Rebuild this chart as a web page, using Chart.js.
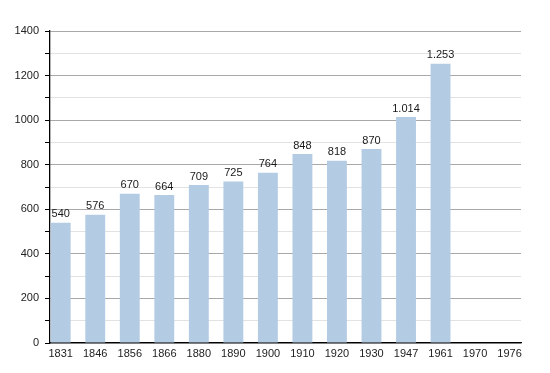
<!DOCTYPE html>
<html>
<head>
<meta charset="utf-8">
<script src="https://cdn.jsdelivr.net/npm/chart.js@4/dist/chart.umd.min.js"></script>
<style>
  html, body { margin: 0; padding: 0; background: #fff; }
  #wrap { width: 550px; height: 373px; }
</style>
</head>
<body>
<div id="wrap"><canvas id="myChart" width="550" height="373"></canvas></div>
<script>
// population by census year
var years = ["1831", "1846", "1856", "1866", "1880", "1890", "1900", "1910", "1920", "1930", "1947", "1961", "1970", "1976"];
var population = [540, 576, 670, 664, 709, 725, 764, 848, 818, 870, 1014, 1253, null, null];
var yTicks = [0, 200, 400, 600, 800, 1000, 1200, 1400];

function fmt(n) {
  // 1014 -> "1.014"
  return String(n).replace(/\B(?=(\d{3})+(?!\d))/g, ".");
}

/*******************************
* value labels above bars
********************************/
var valueLabels = {
  id: 'valueLabels',
  afterDatasetsDraw: function(chart) {
    var ctx = chart.ctx;
    var meta = chart.getDatasetMeta(0);
    ctx.save();
    ctx.font = '11px "Liberation Sans", Arial, sans-serif';
    ctx.fillStyle = '#1a1a1a';
    ctx.textAlign = 'center';
    ctx.textBaseline = 'bottom';
    meta.data.forEach(function(bar, i) {
      var v = population[i];
      if (v === null) return;
      ctx.fillText(fmt(v), bar.x, bar.y - 3);
    });
    ctx.restore();
  }
};

var points = years.map(function(y, i) {
  return { x: i, y: population[i] };
});

var ctx = document.getElementById('myChart');
var myChart = new Chart(ctx, {
  type: 'bar',
  data: {
    datasets: [{
      data: points,
      backgroundColor: '#b3cce4',
      borderWidth: 0,
      barPercentage: 0.72,
      categoryPercentage: 0.8
    }]
  },
  plugins: [valueLabels],
  options: {
    responsive: false,
    animation: false,
    layout: { padding: { top: 31, right: 29, bottom: 10, left: 0 } },
    plugins: {
      legend: { display: false },
      tooltip: { enabled: false }
    },
    scales: {
      x: {
        type: 'linear',
        offset: false,
        min: -0.31,
        max: 13.33,
        afterFit: function(scale) { scale.height = 20; },
        grid: { display: false, drawTicks: false, offset: false },
        border: { display: true, color: '#000', width: 1.3 },
        ticks: {
          stepSize: 1,
          includeBounds: false,
          autoSkip: false,
          maxRotation: 0,
          padding: 4,
          color: '#222',
          font: { family: '"Liberation Sans", Arial, sans-serif', size: 11 },
          callback: function(v) { return years[v] !== undefined ? years[v] : ''; }
        }
      },
      y: {
        min: 0,
        max: 1400,
        afterFit: function(scale) { scale.width = 50; },
        border: { display: true, color: '#000', width: 1.3 },
        grid: {
          color: function(c) {
            return yTicks.indexOf(c.tick.value) >= 0 ? '#a8a8a8' : '#e2e2e2';
          },
          tickColor: '#000',
          tickLength: 5,
          lineWidth: 1
        },
        ticks: {
          stepSize: 100,
          padding: 6,
          color: '#222',
          font: { family: '"Liberation Sans", Arial, sans-serif', size: 11 },
          callback: function(v) { return yTicks.indexOf(v) >= 0 ? String(v) : ''; }
        }
      }
    }
  }
});
</script>
</body>
</html>
